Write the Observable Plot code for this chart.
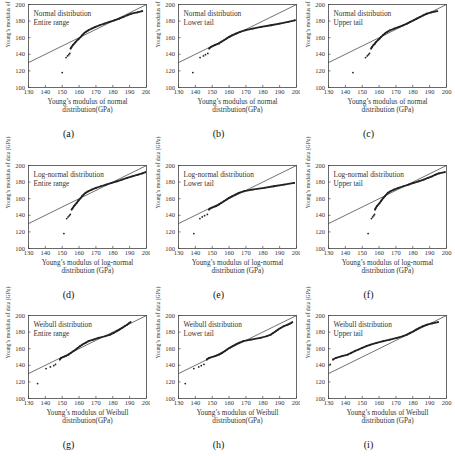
<!DOCTYPE html>
<html><head><meta charset="utf-8">
<script src="https://cdn.jsdelivr.net/npm/d3@7"></script>
<script src="https://cdn.jsdelivr.net/npm/@observablehq/plot@0.6"></script>
<style>
body{margin:0;background:#fff;}
#fig{position:relative;width:455px;height:456px;overflow:hidden;background:#fff;font-family:"Liberation Serif",serif;}
.panel{position:absolute;}
</style></head><body><div id="fig"></div>
<script>
// Data quantiles (sorted Young's modulus of data, GPa) shared by all panels
const dataQuantiles = [118, 136, 138, 139.5, 141, 147, 149, 151, 153, 155, 157, 159, 161, 163, 165, 167, 169, 171, 173, 175, 177, 179, 181, 183, 185, 187, 189, 190.5, 192];

// Theoretical quantiles for each panel (GPa); null = outside the drawn range
const qNormalEntire = [150, 152.3, 153.2, 153.9, 154.5, 155, 155.6, 156.3, 157.2, 158.0, 159.0, 160.0, 161.0, 161.9, 162.8, 164.0, 165.6, 167.5, 169.7, 172.2, 175.0, 178.0, 181.0, 183.8, 186.3, 188.5, 191.0, 194.5, 197.5];
const qNormalLower = [138.5, 142.8, 144.8, 146, 147.4, 148.2, 149.3, 151.5, 154, 155.3, 157, 158.5, 160, 161.8, 164, 166.5, 169.8, 174, 179, 184.8, 190, 195, 199, null, null, null, null, null, null];
const qNormalUpper = [144.5, 152, 153, 153.7, 154.3, 155.3, 155.9, 156.6, 157.6, 158.3, 159.3, 160.3, 161.2, 162.3, 163.4, 164.8, 166.6, 169, 171.8, 174.3, 176.5, 178.5, 180.5, 182.3, 184.2, 186.2, 188.3, 191, 194.5];
const qLogEntire = [151, 152.7, 153.5, 154.2, 154.8, 155.6, 156.3, 157.0, 157.8, 158.6, 159.4, 160.2, 161.0, 161.8, 162.7, 163.8, 165.5, 167.5, 170.0, 173.0, 176.0, 179.3, 182.5, 185.5, 188.5, 191.5, 195.0, 197.5, 199.5];
const qLogLower = [139.1, 142.7, 144.1, 145.5, 147.1, 148.1, 149.5, 152.3, 154, 155.5, 157, 158.5, 160, 161.8, 163.8, 165.8, 169, 173.7, 180.8, 186.5, 192.5, 198.6, null, null, null, null, null, null, null];
const qLogUpper = [153.5, 155.5, 156.2, 156.8, 157.3, 157.6, 158.1, 158.7, 159.6, 160.4, 161.1, 161.8, 162.6, 163.5, 164.3, 165.2, 166.8, 168.8, 171.5, 174.5, 177.5, 180.5, 183.5, 186.5, 189, 191.5, 193.5, 195.5, 199];
const qWeibullEntire = [135.4, 140.4, 143, 145, 146, 148.6, 149.4, 152, 153.8, 155.2, 156.6, 158, 159.2, 160.5, 162, 163.8, 165.5, 168.5, 171.5, 175.5, 178.5, 180.5, 182.3, 184, 185.5, 187, 188.5, 189.5, 190.5];
const qWeibullLower = [134, 139.1, 142, 143.5, 145.1, 146.8, 148.2, 151.8, 154.2, 156, 157.4, 158.8, 160.3, 162, 163.8, 165.8, 168.3, 173, 178.5, 182.3, 184.8, 186.2, 187.7, 189.1, 190.6, 192.3, 194.8, 196.4, 197.5];
const qWeibullUpper = [null, null, null, null, 131, 132.7, 134.5, 138, 141.5, 143.5, 145.5, 147.8, 150, 152.5, 155, 158.5, 162.5, 166.5, 170.5, 174, 176.5, 178.5, 180.5, 182, 183.8, 185.8, 188.5, 191.5, 195];

const panelQuantiles = [qNormalEntire, qNormalLower, qNormalUpper, qLogEntire, qLogLower, qLogUpper, qWeibullEntire, qWeibullLower, qWeibullUpper];
const panelLetters = ["(a)", "(b)", "(c)", "(d)", "(e)", "(f)", "(g)", "(h)", "(i)"];
const distNames = ["Normal distribution", "Log-normal distribution", "Weibull distribution"];
const rangeNames = ["Entire range", "Lower tail", "Upper tail"];
const xTitles = [
  "Young\u2019s modulus of normal\ndistribution(GPa)", "Young\u2019s modulus of normal\ndistribution(GPa)", "Young\u2019s modulus of normal\ndistribution (GPa)",
  "Young\u2019s modulus of log-normal\ndistribution (GPa)", "Young\u2019s modulus of log-normal\ndistribution (GPa)", "Young\u2019s modulus of log-normal\ndistribution (GPa)",
  "Young\u2019s modulus of Weibull\ndistribution(GPa)", "Young\u2019s modulus of Weibull\ndistribution(GPa)", "Young\u2019s modulus of Weibull\ndistribution (GPa)"
];
const yTitle = "Young\u2019s modulus of data (GPa)";
const xTicks = [130, 140, 150, 160, 170, 180, 190, 200];
const yTicks = [100, 120, 140, 160, 180, 200];
const xDomain = [130, 200];
const yDomain = [100, 200];
const refLine = [130, 200];

const fig = document.getElementById("fig");
const panelLefts = [0, 150, 300];
const panelTops = [0, 161, 311];
const ink = "#222";

panelQuantiles.forEach((qs, i) => {
  const row = Math.floor(i / 3), col = i % 3;
  const rows = dataQuantiles.map((y, j) => ({x: qs[j], y, j})).filter(d => d.x != null);
  const curve = rows.filter(d => d.j >= 5);
  const svg = Plot.plot({
    width: 150, height: 143,
    marginTop: 4, marginRight: 4, marginBottom: 56, marginLeft: 28,
    x: {domain: xDomain},
    y: {domain: yDomain},
    style: {fontFamily: "'Liberation Serif', serif", fontSize: "6.5px", color: "#333", background: "white", overflow: "visible"},
    marks: [
      Plot.ruleX(xTicks, {y1: yDomain[0], y2: yDomain[0] + 2.5, stroke: "#444", strokeWidth: 0.7}),
      Plot.ruleY(yTicks, {x1: xDomain[0], x2: xDomain[0] + 1.5, stroke: "#444", strokeWidth: 0.7}),
      Plot.axisX({ticks: xTicks, tickSize: 0, tickPadding: 2, label: null, fontSize: 6.5}),
      Plot.axisY({ticks: yTicks, tickSize: 0, tickPadding: 3.5, label: null, fontSize: 6.5}),
      Plot.line(refLine, {x: d => d, y: d => d, stroke: "#333", strokeWidth: 0.7}),
      Plot.line(curve, {x: "x", y: "y", stroke: ink, strokeWidth: 1.8, clip: true}),
      Plot.dot(rows, {x: "x", y: "y", r: 0.9, fill: ink, stroke: null, clip: true}),
      Plot.frame({stroke: "#444", strokeWidth: 0.8}),
      Plot.text([distNames[row] + "\n" + rangeNames[col]], {frameAnchor: "top-left", dx: 5, dy: 5, lineAnchor: "top", textAnchor: "start", fontSize: 7.3, lineHeight: 1.25}),
      Plot.text([xTitles[i]], {frameAnchor: "bottom", dy: 10.5, lineAnchor: "top", fontSize: 7.2, lineHeight: 1.1}),
      Plot.text([yTitle], {frameAnchor: "left", rotate: -90, dx: -20, dy: 1.5, fontSize: 5.7}),
      Plot.text([panelLetters[i]], {frameAnchor: "bottom", dx: -19, dy: 49, fontSize: 10, fill: "#111"})
    ]
  });
  svg.classList.add("panel");
  svg.style.left = panelLefts[col] + "px";
  svg.style.top = panelTops[row] + "px";
  fig.appendChild(svg);
});
</script></body></html>
